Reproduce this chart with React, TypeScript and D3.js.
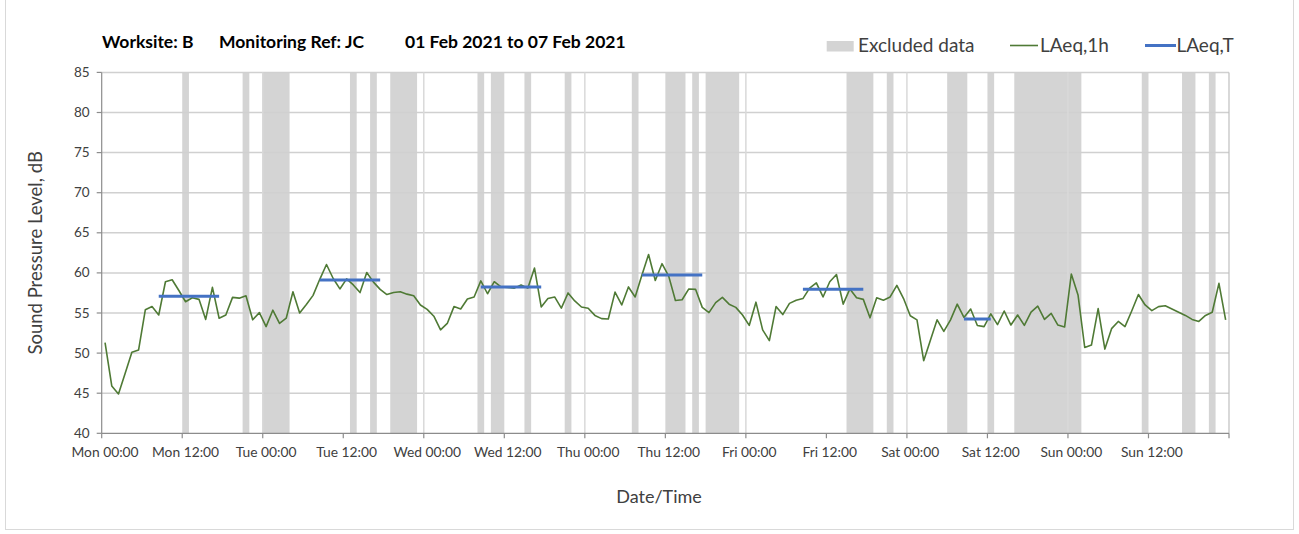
import React from "react";
import * as d3 from "d3";

const dayLabels = ["Mon", "Tue", "Wed", "Thu", "Fri", "Sat", "Sun"];
const xTickLabels = dayLabels.flatMap((d) => [d + " 00:00", d + " 12:00"]);
const yTicks = [40, 45, 50, 55, 60, 65, 70, 75, 80, 85];

// LAeq,1h hourly values (hour 0 = Mon 00:00)
const laeq1h = [
  51.3, 45.9, 44.9, 47.5, 50.1, 50.4, 55.4, 55.8, 54.75, 58.9, 59.15, 57.8,
  56.4, 56.9, 56.7, 54.2, 58.2, 54.35, 54.75, 56.95, 56.85, 57.15, 54.15, 55.05,
  53.3, 55.35, 53.7, 54.35, 57.65, 55.0, 56.05, 57.2, 59.2, 61.05, 59.3, 58.0,
  59.25, 58.5, 57.55, 60.05, 58.85, 57.95, 57.3, 57.55, 57.65, 57.35, 57.15, 56.0,
  55.45, 54.6, 52.9, 53.7, 55.8, 55.5, 56.75, 57.0, 59.0, 57.4, 58.9, 58.25,
  58.2, 58.1, 58.5, 58.1, 60.6, 55.75, 56.8, 57.0, 55.6, 57.5, 56.5, 55.75,
  55.6, 54.7, 54.3, 54.25, 57.6, 56.0, 58.25, 57.0, 59.7, 62.3, 59.05, 61.15,
  59.6, 56.55, 56.65, 58.0, 57.95, 55.7, 55.05, 56.3, 56.95, 56.1, 55.7, 54.75,
  53.45, 56.35, 52.9, 51.55, 55.8, 54.8, 56.2, 56.6, 56.8, 58.1, 58.75, 57.0,
  58.9, 59.8, 56.1, 58.0, 56.9, 56.7, 54.4, 56.9, 56.6, 57.0, 58.45, 56.8,
  54.65, 54.15, 49.05, 51.6, 54.15, 52.7, 54.15, 56.1, 54.45, 55.5, 53.45, 53.3,
  54.9, 53.55, 55.25, 53.5, 54.75, 53.45, 55.1, 55.85, 54.2, 54.95, 53.5, 53.25,
  59.85, 57.25, 50.7, 51.0, 55.55, 50.5, 53.05, 53.95, 53.3, 55.25, 57.3, 56.0,
  55.3, 55.8, 55.9, 55.5, 55.1, 54.7, 54.2, 53.95, 54.7, 55.1, 58.7, 54.15,
];

// LAeq,T periods (start hour, end hour, level)
const laeqTStart = [8, 32, 56, 80, 104, 128];
const laeqTEnd = [17, 41, 65, 89, 113, 132];
const laeqTValues = [57.1, 59.1, 58.25, 59.75, 57.95, 54.25];

// Excluded data periods (start hour, end hour)
const excludedStart = [12, 21, 24, 37, 40, 43, 56, 58, 63, 69, 79, 84, 88, 90, 111, 117, 126, 132, 136, 155, 161, 165];
const excludedEnd = [13, 22, 28, 38, 41, 47, 57, 60, 64, 70, 80, 87, 89, 95, 115, 118, 129, 133, 146, 156, 163, 166];

const W = 1299;
const H = 534;
const left = 101.7;
const right = 1229;
const top = 72.4;
const bottom = 433.3;
const font = "Lato, 'Open Sans', sans-serif";
const textColor = "#404040";

export default function App() {
  const x = d3.scaleLinear().domain([0, 168]).range([left, right]);
  const y = d3.scaleLinear().domain([40, 85]).range([bottom, top]);
  const hourTicks = d3.range(0, 168, 12);
  const dayTicks = d3.range(24, 168, 24);

  const line = d3
    .line<number>()
    .x((_, i) => x(i + 0.5))
    .y((d) => y(d));

  return (
    <div style={{ position: "absolute", left: 0, top: 0 }}>
      <svg width={W} height={H} style={{ display: "block", background: "#fff" }}>
        <rect x={5.5} y={-2} width={W - 11} height={H - 2.5} fill="none" stroke="#d9d9d9" strokeWidth={1} />
        {/* excluded bands */}
        {excludedStart.map((s, i) => (
          <rect
            key={"ex" + i}
            x={x(s)}
            y={top}
            width={x(excludedEnd[i]) - x(s)}
            height={bottom - top}
            fill="#d4d4d4"
          />
        ))}
        {/* horizontal gridlines */}
        {yTicks.slice(1).map((t) => (
          <line key={"hg" + t} x1={left} x2={right} y1={y(t)} y2={y(t)} stroke="#d0d0d0" strokeWidth={1.5} />
        ))}
        {/* vertical day gridlines */}
        {dayTicks.map((t) => (
          <line key={"vg" + t} x1={x(t)} x2={x(t)} y1={top} y2={bottom} stroke="#d9d9d9" strokeWidth={1.5} />
        ))}
        <line x1={right} x2={right} y1={top} y2={bottom} stroke="#bfbfbf" strokeWidth={1.2} />
        {/* axes */}
        <line x1={left} x2={left} y1={top} y2={bottom} stroke="#8c8c8c" strokeWidth={1.2} />
        <line x1={left} x2={right} y1={bottom} y2={bottom} stroke="#8c8c8c" strokeWidth={1.2} />
        {yTicks.map((t) => (
          <g key={"yt" + t}>
            <line x1={left - 5} x2={left} y1={y(t)} y2={y(t)} stroke="#8c8c8c" strokeWidth={1.2} />
            <text x={left - 12} y={y(t) + 4.5} textAnchor="end" fontFamily={font} fontSize={13.5} fill={textColor}>
              {t}
            </text>
          </g>
        ))}
        {hourTicks.map((t, i) => (
          <g key={"xt" + t}>
            <line x1={x(t)} x2={x(t)} y1={bottom} y2={bottom + 5} stroke="#8c8c8c" strokeWidth={1.2} />
            <text x={x(t + 0.5)} y={bottom + 24} textAnchor="middle" fontFamily={font} fontSize={13.8} fill={textColor}>
              {xTickLabels[i]}
            </text>
          </g>
        ))}
        <line x1={right} x2={right} y1={bottom} y2={bottom + 5} stroke="#8c8c8c" strokeWidth={1.2} />
        {/* LAeq,1h */}
        <path d={line(laeq1h) || ""} fill="none" stroke="#4f7a35" strokeWidth={1.6} strokeLinejoin="round" />
        {/* LAeq,T */}
        {laeqTStart.map((s, i) => (
          <line
            key={"lt" + i}
            x1={x(s + 0.5)}
            x2={x(laeqTEnd[i] + 0.5)}
            y1={y(laeqTValues[i])}
            y2={y(laeqTValues[i])}
            stroke="#4472c4"
            strokeWidth={3}
          />
        ))}
        {/* axis titles */}
        <text
          transform={`translate(42,${(top + bottom) / 2}) rotate(-90)`}
          textAnchor="middle"
          fontFamily={font}
          fontSize={18.5}
          fill={textColor}
        >
          Sound Pressure Level, dB
        </text>
        <text x={659} y={503} textAnchor="middle" fontFamily={font} fontSize={18} fill={textColor}>
          Date/Time
        </text>
        {/* title */}
        <g fontFamily={font} fontSize={17.5} fontWeight="bold" fill="#000">
          <text x={102} y={48}>Worksite: B</text>
          <text x={219} y={48}>Monitoring Ref: JC</text>
          <text x={405} y={48}>01 Feb 2021 to 07 Feb 2021</text>
        </g>
        {/* legend */}
        <rect x={826.7} y={41} width={27} height={10.5} fill="#d4d4d4" />
        <text x={858} y={52} fontFamily={font} fontSize={19} fill={textColor}>Excluded data</text>
        <line x1={1010} x2={1038} y1={45.5} y2={45.5} stroke="#4f7a35" strokeWidth={1.6} />
        <text x={1040} y={52} fontFamily={font} fontSize={19} fill={textColor}>LAeq,1h</text>
        <line x1={1145} x2={1176} y1={45.5} y2={45.5} stroke="#4472c4" strokeWidth={3} />
        <text x={1176.5} y={52} fontFamily={font} fontSize={19} fill={textColor}>LAeq,T</text>
      </svg>
    </div>
  );
}
